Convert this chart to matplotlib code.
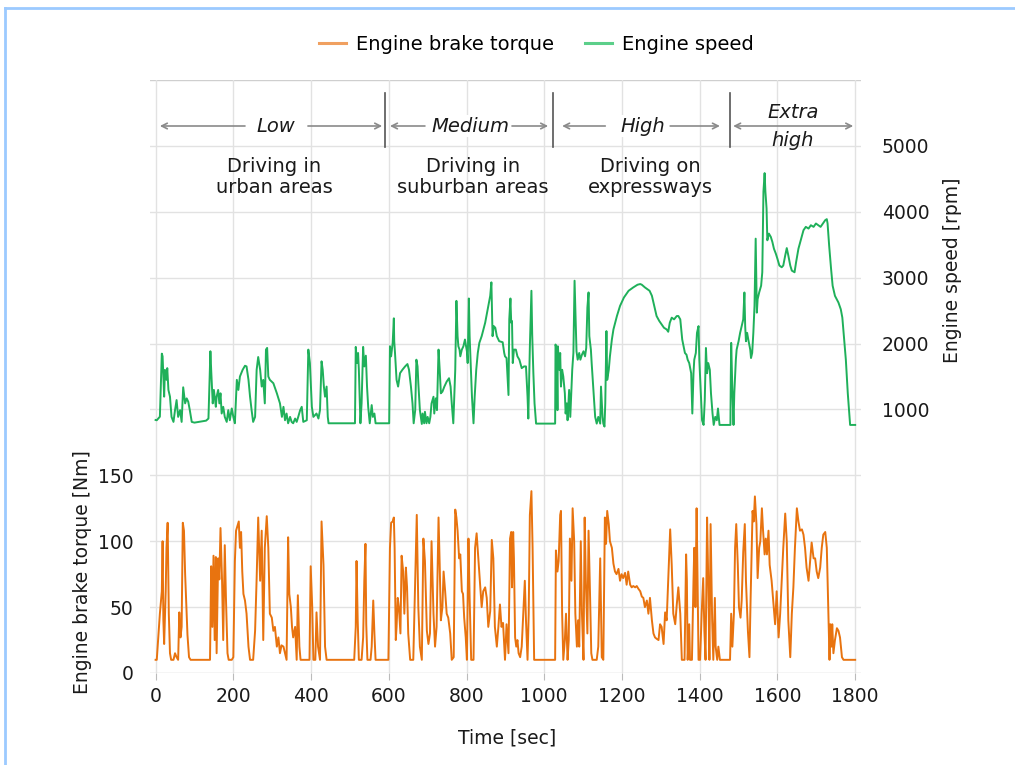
import matplotlib
matplotlib.use("Agg")
import matplotlib.pyplot as plt
from matplotlib.lines import Line2D

plt.rcParams['font.family'] = ['DejaVu Sans']

# ---------------- data ----------------
speed_low = [(0, 840), (3, 836), (11, 890), (16, 1847), (18, 1806), (22, 1194), (24, 1600), (28, 1450), (30, 1627),
             (33, 1296), (37, 1194), (41, 887), (46, 811), (50, 990), (54, 1142), (58, 887), (63, 990), (67, 811),
             (71, 1336), (76, 1092), (80, 1168), (84, 1117), (88, 990), (93, 811), (100, 800), (130, 830), (136, 862),
             (141, 1883), (143, 1602), (147, 1092), (150, 1296), (155, 1040), (157, 1194), (161, 1296), (164, 1092),
             (167, 1245), (170, 938), (174, 1040), (178, 887), (183, 811), (187, 990), (191, 836), (196, 1015),
             (200, 887), (204, 790), (209, 1449), (213, 1296), (217, 1500), (224, 1602), (230, 1663), (234, 1653),
             (239, 1449), (243, 1194), (247, 990), (251, 811), (256, 887), (260, 1602), (264, 1796), (269, 1602),
             (273, 1347), (277, 1449), (281, 1092), (284, 1908), (287, 1934), (290, 1500), (294, 1449), (303, 1398),
             (312, 1245), (320, 1092), (325, 887), (329, 1040), (333, 836), (337, 938), (341, 790), (346, 887),
             (350, 811), (354, 790), (359, 862), (363, 811), (367, 887), (372, 990), (376, 1040), (380, 811),
             (389, 836), (393, 1908), (397, 1704), (402, 1040), (406, 887), (414, 938), (419, 862), (423, 990),
             (427, 1730), (430, 1602), (433, 1347), (436, 1193), (440, 1347), (443, 887), (445, 790), (513, 790),
             (515, 1949), (518, 1704), (521, 1857), (523, 1602), (527, 790), (530, 1092), (534, 1949), (537, 1653),
             (541, 1816), (544, 1347), (547, 1040), (551, 790), (556, 1066), (559, 887), (563, 938), (566, 790),
             (589, 790)]
speed_medium = [(601, 790), (603, 1959), (606, 1806), (610, 2010), (613, 2383), (614, 2036), (616, 1857), (620, 1449),
                (624, 1347), (629, 1551), (635, 1602), (642, 1653), (648, 1689), (652, 1602), (657, 1347), (661, 1092),
                (664, 790), (668, 990), (671, 1755), (674, 1653), (676, 1398), (680, 990), (685, 780), (687, 938),
                (691, 790), (693, 964), (697, 790), (700, 887), (704, 790), (707, 887), (710, 1091), (715, 1193),
                (717, 938), (721, 1168), (724, 990), (728, 1908), (731, 1602), (734, 1245), (738, 1270), (743, 1347),
                (749, 1423), (755, 1474), (759, 1347), (762, 1092), (766, 790), (771, 1602), (774, 2648), (777, 2112),
                (779, 1959), (782, 1908), (784, 1806), (788, 1908), (792, 1959), (796, 2061), (801, 1883), (803, 1704),
                (806, 2684), (808, 2112), (811, 1653), (814, 1194), (818, 790), (821, 1194), (825, 1602), (829, 1857),
                (833, 2010), (839, 2112), (848, 2316), (856, 2571), (861, 2725), (864, 2929), (867, 2112), (870, 2265),
                (874, 2240), (878, 2112), (884, 2036), (893, 2020), (897, 1857), (899, 1806), (903, 1780), (908, 1219),
                (910, 2367), (913, 2684), (915, 2316), (917, 2342), (919, 1704), (922, 1908), (927, 1908), (931, 1806),
                (936, 1755), (942, 1627), (948, 1653), (953, 1653), (957, 1194), (959, 862), (963, 1959), (967, 2801),
                (969, 2138), (972, 1551), (975, 1092), (979, 785), (1022, 785)]
speed_high = [(1028, 785), (1029, 1985), (1032, 1908), (1034, 989), (1035, 1959), (1039, 1602), (1041, 1857),
              (1043, 1347), (1046, 1602), (1049, 1500), (1053, 1245), (1055, 938), (1058, 1092), (1060, 836),
              (1064, 1296), (1067, 887), (1070, 1296), (1072, 1602), (1075, 1857), (1078, 2954), (1080, 2520),
              (1083, 1883), (1086, 1755), (1090, 1857), (1093, 1755), (1097, 1831), (1101, 1883), (1105, 1806),
              (1108, 1934), (1111, 2546), (1114, 2776), (1116, 2112), (1120, 1908), (1122, 1704), (1126, 1347),
              (1131, 887), (1135, 785), (1139, 887), (1144, 785), (1146, 1347), (1150, 887), (1152, 785), (1155, 740),
              (1157, 1092), (1160, 2189), (1162, 1449), (1166, 1602), (1169, 1806), (1174, 2061), (1178, 2214),
              (1187, 2418), (1195, 2571), (1205, 2699), (1217, 2801), (1229, 2852), (1240, 2893), (1247, 2903),
              (1251, 2893), (1259, 2852), (1271, 2801), (1277, 2725), (1283, 2571), (1289, 2418), (1296, 2342),
              (1302, 2291), (1308, 2240), (1315, 2214), (1319, 2179), (1323, 2316), (1328, 2393), (1334, 2367),
              (1341, 2418), (1345, 2418), (1350, 2367), (1355, 2061), (1362, 1857), (1366, 1831), (1369, 1755),
              (1373, 1704), (1378, 1550), (1381, 938), (1384, 1550), (1386, 1755), (1390, 1857), (1393, 2163),
              (1397, 2265), (1399, 1755), (1403, 1244), (1406, 836), (1410, 765), (1413, 1142), (1416, 1933),
              (1419, 1550), (1422, 1704), (1426, 1602), (1429, 1244), (1433, 938), (1436, 765), (1440, 887),
              (1444, 836), (1447, 1014), (1451, 765), (1477, 765)]
speed_extra = [(1479, 765), (1480, 1500), (1481, 2010), (1484, 1295), (1487, 765), (1489, 1244), (1493, 1755),
               (1495, 1908), (1500, 2035), (1504, 2163), (1508, 2265), (1512, 2367), (1515, 2775), (1517, 2265),
               (1519, 2035), (1522, 2163), (1525, 2061), (1530, 1908), (1532, 1780), (1535, 1857), (1538, 2163),
               (1541, 2571), (1544, 3592), (1547, 2469), (1549, 2673), (1553, 2775), (1558, 2878), (1561, 3082),
               (1564, 4307), (1567, 4587), (1569, 4307), (1572, 4051), (1574, 3567), (1578, 3669), (1583, 3618),
               (1587, 3541), (1591, 3439), (1596, 3362), (1600, 3286), (1605, 3184), (1611, 3158), (1615, 3184),
               (1620, 3337), (1624, 3449), (1628, 3337), (1633, 3184), (1637, 3107), (1644, 3082), (1648, 3235),
               (1654, 3439), (1661, 3592), (1667, 3720), (1673, 3771), (1680, 3745), (1686, 3796), (1693, 3771),
               (1699, 3822), (1705, 3796), (1711, 3771), (1717, 3822), (1723, 3873), (1727, 3888), (1729, 3822),
               (1733, 3490), (1738, 3133), (1742, 2878), (1748, 2724), (1757, 2622), (1763, 2520), (1767, 2393),
               (1771, 2112), (1776, 1755), (1781, 1244), (1787, 765), (1800, 765)]

torque_low = [(0, 10), (3, 10), (11, 45), (16, 62), (18, 100), (20, 40), (22, 22), (26, 62), (28, 95), (31, 114),
              (34, 45), (37, 15), (40, 10), (46, 10), (50, 15), (54, 12), (58, 10), (61, 46), (64, 27), (67, 35),
              (70, 114), (73, 108), (76, 75), (80, 45), (82, 29), (86, 12), (90, 10), (140, 10), (143, 81), (146, 35),
              (149, 89), (152, 25), (155, 88), (157, 15), (161, 87), (164, 71), (167, 110), (171, 70), (174, 25),
              (178, 97), (181, 57), (185, 15), (188, 10), (196, 10), (200, 12), (204, 85), (207, 108), (210, 111),
              (214, 115), (217, 95), (220, 107), (223, 77), (226, 60), (230, 55), (234, 45), (239, 20), (243, 10),
              (251, 10), (256, 32), (260, 72), (264, 118), (269, 70), (273, 108), (277, 25), (281, 95), (286, 119),
              (290, 95), (294, 45), (299, 42), (303, 32), (307, 35), (312, 20), (316, 27), (320, 15), (324, 21),
              (329, 20), (333, 15), (337, 10), (341, 103), (344, 60), (348, 50), (351, 35), (354, 27), (359, 35),
              (363, 10), (366, 59), (370, 20), (373, 10), (396, 10), (399, 81), (403, 50), (406, 10), (411, 10),
              (414, 46), (418, 20), (423, 10), (427, 115), (432, 82), (436, 20), (440, 10), (511, 10), (515, 35),
              (517, 85), (520, 40), (523, 10), (530, 10), (534, 27), (537, 70), (540, 98), (542, 37), (545, 10),
              (553, 10), (556, 20), (560, 55), (563, 30), (566, 10), (589, 10)]
torque_medium = [(599, 10), (603, 95), (606, 114), (610, 115), (613, 118), (615, 95), (618, 25), (620, 35), (623, 57),
                 (626, 50), (630, 30), (633, 89), (637, 77), (640, 45), (644, 80), (647, 65), (650, 30), (655, 10),
                 (663, 10), (668, 70), (672, 120), (676, 50), (680, 20), (685, 10), (689, 102), (693, 85), (698, 32),
                 (702, 22), (706, 30), (710, 100), (715, 45), (719, 20), (723, 35), (728, 118), (731, 82), (734, 40),
                 (738, 50), (741, 77), (745, 62), (749, 45), (753, 42), (758, 30), (762, 10), (767, 12), (771, 124),
                 (774, 118), (777, 108), (781, 87), (784, 90), (788, 62), (791, 60), (794, 42), (798, 27), (801, 10),
                 (805, 102), (808, 57), (812, 10), (818, 10), (822, 95), (826, 106), (831, 85), (835, 67), (839, 50),
                 (843, 62), (848, 65), (852, 57), (856, 35), (861, 47), (865, 101), (869, 87), (873, 35), (878, 20),
                 (882, 35), (886, 52), (890, 35), (894, 38), (899, 10), (903, 37), (908, 15), (912, 102), (915, 107),
                 (917, 65), (920, 107), (922, 87), (925, 27), (928, 20), (931, 25), (934, 15), (938, 12), (942, 20),
                 (946, 45), (950, 70), (953, 40), (957, 10), (960, 45), (963, 120), (967, 138), (970, 95), (974, 10),
                 (1022, 10)]
torque_high = [(1028, 10), (1030, 93), (1034, 77), (1037, 85), (1041, 120), (1043, 123), (1046, 45), (1049, 10),
               (1053, 25), (1056, 45), (1060, 10), (1063, 25), (1066, 102), (1070, 70), (1073, 125), (1077, 100),
               (1080, 45), (1084, 20), (1087, 40), (1090, 20), (1094, 100), (1097, 45), (1101, 10), (1104, 118),
               (1107, 70), (1111, 30), (1114, 108), (1118, 57), (1121, 15), (1124, 10), (1135, 10), (1139, 20),
               (1144, 87), (1148, 12), (1152, 10), (1156, 118), (1159, 98), (1162, 123), (1166, 113), (1169, 100),
               (1174, 95), (1178, 83), (1182, 77), (1186, 75), (1191, 79), (1195, 70), (1199, 75), (1203, 72),
               (1208, 76), (1212, 67), (1216, 77), (1221, 67), (1225, 65), (1229, 66), (1234, 65), (1238, 66),
               (1242, 64), (1247, 62), (1251, 58), (1255, 57), (1259, 50), (1264, 55), (1268, 45), (1272, 57),
               (1277, 40), (1281, 30), (1285, 27), (1289, 26), (1294, 25), (1298, 37), (1302, 35), (1307, 22),
               (1311, 46), (1315, 40), (1319, 70), (1324, 109), (1328, 82), (1332, 45), (1337, 37), (1341, 52),
               (1345, 65), (1350, 45), (1354, 10), (1361, 10), (1365, 90), (1367, 70), (1369, 10), (1373, 37),
               (1375, 10), (1380, 10), (1384, 70), (1386, 95), (1389, 50), (1392, 125), (1394, 82), (1397, 10),
               (1401, 10), (1405, 45), (1409, 72), (1412, 32), (1415, 10), (1419, 118), (1422, 70), (1425, 10),
               (1428, 113), (1432, 40), (1435, 10), (1439, 57), (1441, 20), (1445, 10), (1448, 20), (1452, 10),
               (1477, 10)]
torque_extra = [(1478, 10), (1481, 45), (1484, 20), (1488, 45), (1491, 95), (1494, 113), (1498, 82), (1501, 50),
                (1505, 42), (1508, 55), (1512, 92), (1516, 113), (1519, 70), (1524, 32), (1528, 12), (1531, 57),
                (1536, 123), (1539, 115), (1542, 134), (1546, 113), (1549, 72), (1553, 95), (1556, 100), (1560, 125),
                (1563, 108), (1567, 90), (1570, 102), (1573, 90), (1577, 108), (1580, 82), (1585, 70), (1590, 52),
                (1594, 37), (1598, 62), (1603, 27), (1607, 45), (1611, 70), (1615, 95), (1620, 121), (1624, 100),
                (1628, 40), (1633, 12), (1637, 45), (1641, 65), (1645, 95), (1650, 125), (1654, 115), (1658, 108),
                (1663, 109), (1667, 105), (1671, 95), (1675, 80), (1680, 70), (1684, 85), (1688, 99), (1693, 87),
                (1697, 87), (1701, 77), (1705, 72), (1710, 80), (1714, 95), (1718, 105), (1723, 107), (1727, 95),
                (1731, 45), (1734, 10), (1736, 37), (1739, 20), (1741, 37), (1744, 15), (1748, 25), (1753, 34),
                (1757, 32), (1761, 27), (1766, 12), (1770, 10), (1800, 10)]

phase_bounds = [589, 1022, 1477]
phase_names = ["Low", "Medium", "High", "Extra\nhigh"]
phase_desc = ["Driving in\nurban areas", "Driving in\nsuburban areas", "Driving on\nexpressways"]
x_ticks = [0, 200, 400, 600, 800, 1000, 1200, 1400, 1600, 1800]
torque_ticks = [0, 50, 100, 150]
speed_ticks = [1000, 2000, 3000, 4000, 5000]

ORANGE = '#e8730f'
GREEN = '#1fb05a'
GRID = '#e2e2e2'
TXT = '#1a1a1a'
ARROW = '#8a8a8a'
FS = 13.5

speed = speed_low + speed_medium + speed_high + speed_extra
torque = torque_low + torque_medium + torque_high + torque_extra
ts, vs = zip(*speed)
tt, vt = zip(*torque)

fig = plt.figure(figsize=(10.15, 7.65), dpi=100)
W, H = 1015, 765
ax = fig.add_axes([150 / W, 1 - 673 / H, 711 / W, 593 / H])
ax.set_xlim(-14.4, 1815)
ax.set_ylim(0, 450)
for s in ax.spines.values():
    s.set_visible(False)

# grid
for y in range(0, 451, 50):
    ax.axhline(y, color=GRID if y not in (0, 450) else '#cfcfcf', lw=1.0, zorder=0)
for x in x_ticks:
    ax.axvline(x, color=GRID, lw=1.0, zorder=0)

ax.plot(tt, vt, color=ORANGE, lw=1.4, zorder=3)

ax.set_xticks(x_ticks)
ax.set_xticklabels([str(v) for v in x_ticks], fontsize=FS, color=TXT)
ax.tick_params(axis='x', length=5, color='#bbbbbb', pad=5)
ax.set_yticks(torque_ticks)
ax.set_yticklabels([str(v) for v in torque_ticks], fontsize=FS, color=TXT)
ax.tick_params(axis='y', length=0, pad=12)

ax2 = ax.twinx()
ax2.set_ylim(-3000, 6000)
for s in ax2.spines.values():
    s.set_visible(False)
ax2.plot(ts, vs, color=GREEN, lw=1.4, zorder=3)
ax2.set_yticks(speed_ticks)
ax2.set_yticklabels([str(v) for v in speed_ticks], fontsize=FS, color=TXT)
ax2.tick_params(axis='y', length=0, pad=15)

# header annotations (torque-axis coordinates)
def py(ypix):
    return (673 - ypix) / (593 / 450)

ya = py(126)
for b in phase_bounds:
    ax.plot([b, b], [py(93), py(147)], color='#555555', lw=1.2, zorder=4, clip_on=False)

arrows = [(230, 11), (392, 583), (693, 603), (917, 1010), (1157, 1046), (1324, 1452)]
for tail, head in arrows:
    ax.annotate('', xy=(head, ya), xytext=(tail, ya),
                arrowprops=dict(arrowstyle='->', color=ARROW, lw=1.2, shrinkA=0, shrinkB=0))
ax.annotate('', xy=(1795, ya), xytext=(1486, ya),
            arrowprops=dict(arrowstyle='<->', color=ARROW, lw=1.2, shrinkA=0, shrinkB=0))

name_x = [310, 809, 1254]
for x, n in zip(name_x, phase_names[:3]):
    ax.text(x, ya, n, ha='center', va='center', fontsize=FS + 0.5, style='italic', color=TXT,
            bbox=dict(facecolor='white', edgecolor='none', pad=1), zorder=5)
ax.text(1640, py(113), "Extra", ha='center', va='center', fontsize=FS + 0.5, style='italic', color=TXT, zorder=5)
ax.text(1640, py(140), "high", ha='center', va='center', fontsize=FS + 0.5, style='italic', color=TXT, zorder=5)

desc_x = [305, 817, 1272]
for x, d in zip(desc_x, phase_desc):
    ax.text(x, py(177), d, ha='center', va='center', fontsize=FS + 0.5, color=TXT, linespacing=1.15, zorder=5)

# axis labels
fig.text(83 / W, 1 - 572 / H, 'Engine brake torque [Nm]', rotation=90, ha='center', va='center',
         fontsize=FS, color=TXT)
fig.text(952 / W, 1 - 270 / H, 'Engine speed [rpm]', rotation=90, ha='center', va='center',
         fontsize=FS, color=TXT)
fig.text(507 / W, 1 - 738 / H, 'Time [sec]', ha='center', va='center', fontsize=FS, color=TXT)

# legend
handles = [Line2D([], [], color='#f0a060', lw=2.2), Line2D([], [], color='#5ccf8a', lw=2.2)]
fig.legend(handles, ['Engine brake torque', 'Engine speed'], loc='center', bbox_to_anchor=(536 / W, 1 - 44 / H),
           ncol=2, frameon=False, fontsize=FS + 0.5, handlelength=1.4, columnspacing=1.6, handletextpad=0.5)

# light blue frame
fig.add_artist(Line2D([5 / W, 1], [1 - 8 / H, 1 - 8 / H], color='#9ccaff', lw=2.0, transform=fig.transFigure))
fig.add_artist(Line2D([5 / W, 5 / W], [0, 1 - 8 / H], color='#9ccaff', lw=2.0, transform=fig.transFigure))

fig.savefig('out.png', dpi=100)
